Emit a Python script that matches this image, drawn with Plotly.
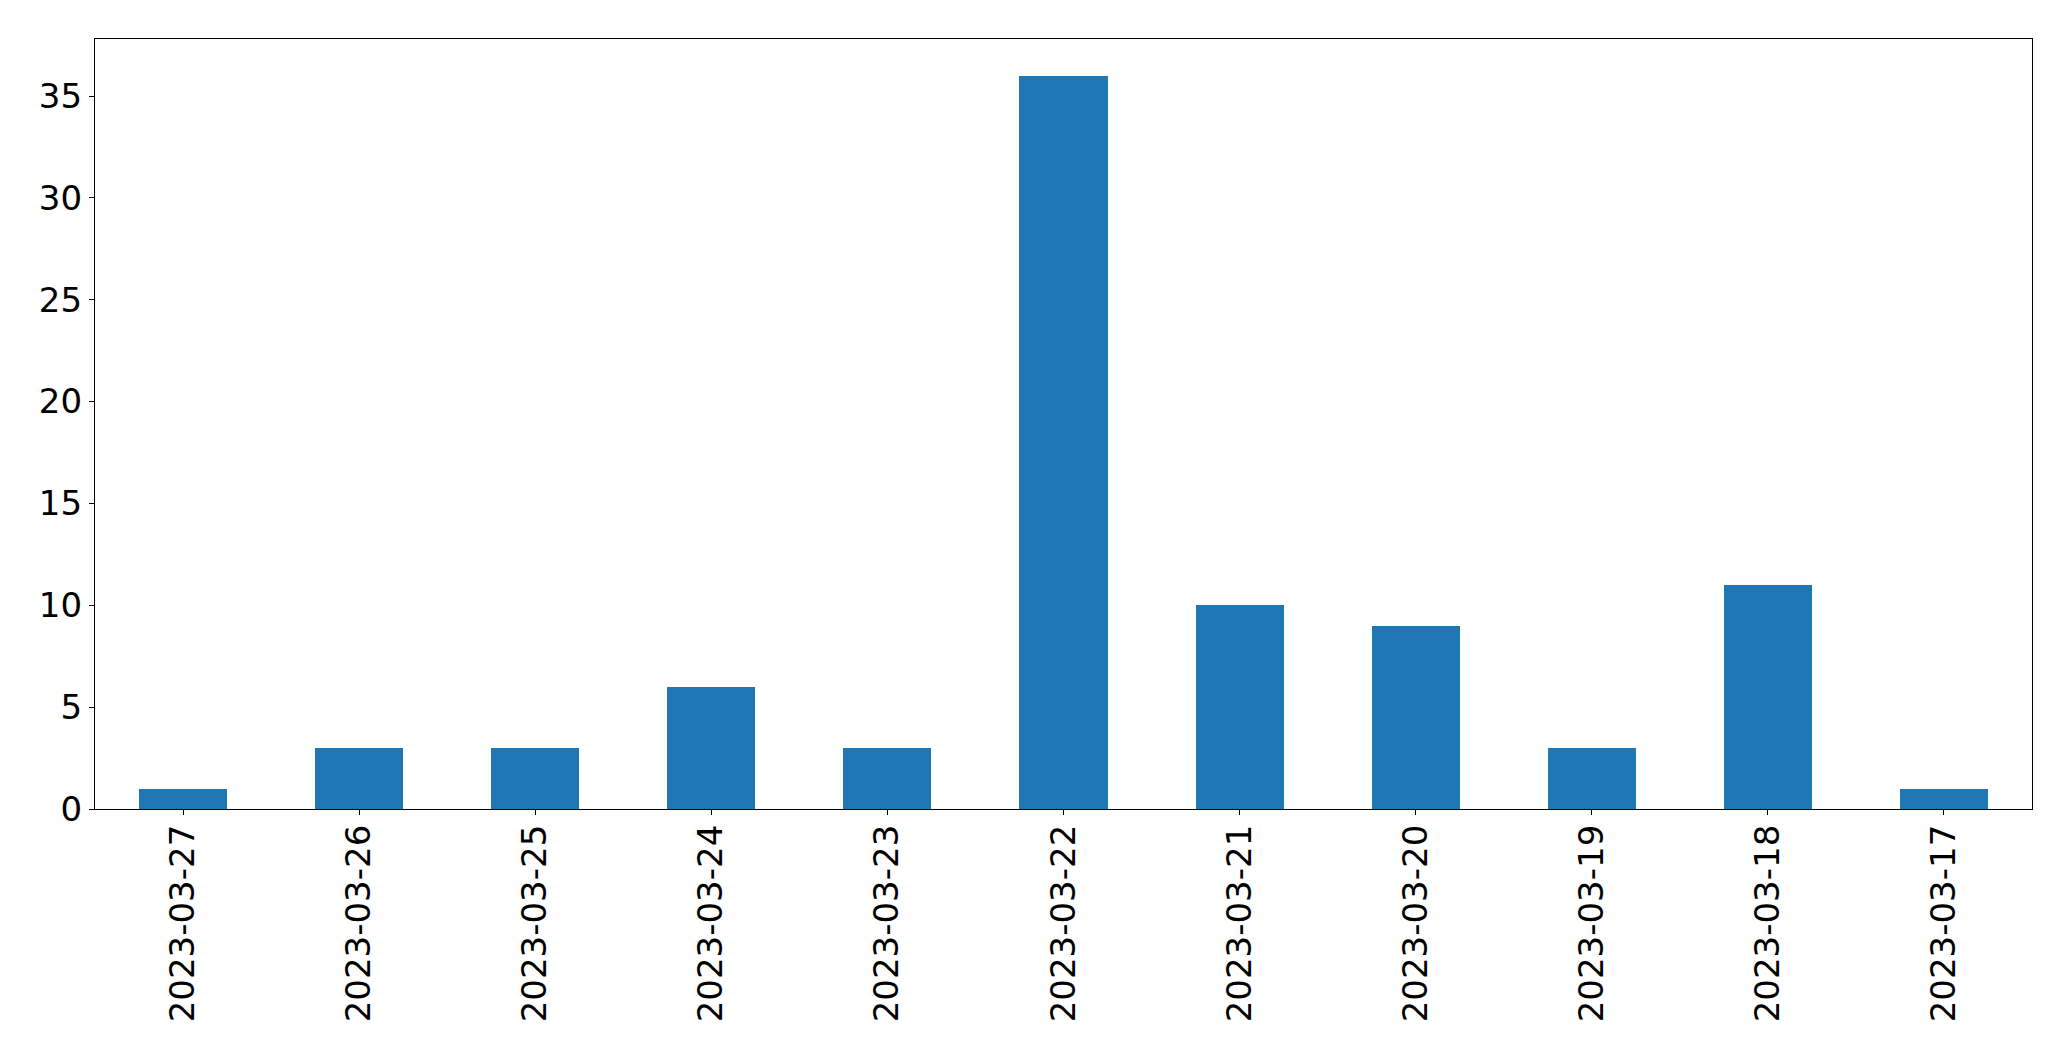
import plotly.graph_objects as go

dates = ["2023-03-27", "2023-03-26", "2023-03-25", "2023-03-24", "2023-03-23",
         "2023-03-22", "2023-03-21", "2023-03-20", "2023-03-19", "2023-03-18",
         "2023-03-17"]
counts = [1, 3, 3, 6, 3, 36, 10, 9, 3, 11, 1]
y_ticks = [0, 5, 10, 15, 20, 25, 30, 35]

fig = go.Figure(go.Bar(x=dates, y=counts, width=0.5, marker=dict(color="#1f77b4", line=dict(width=0))))

font = dict(family="DejaVu Sans", size=34, color="black")
fig.update_layout(
    width=2071, height=1061,
    margin=dict(l=95, r=39, t=39, b=252, pad=0),
    paper_bgcolor="white", plot_bgcolor="white",
    showlegend=False,
    font=font,
    bargap=0,
)
fig.update_xaxes(
    type="category", range=[-0.5, len(dates) - 0.5],
    showline=True, linecolor="black", linewidth=1.3, mirror=True,
    ticks="outside", ticklen=5, tickwidth=1.3, tickcolor="black",
    tickangle=-90, tickfont=font, showgrid=False, zeroline=False,
    ticklabelstandoff=-4,
)
fig.update_yaxes(
    range=[0, max(counts) * 1.05], tickvals=y_ticks,
    showline=True, linecolor="black", linewidth=1.3, mirror=True,
    ticks="outside", ticklen=5, tickwidth=1.3, tickcolor="black",
    tickfont=font, showgrid=False, zeroline=False,
)
fig.write_html(
    "out.html",
    config={"displayModeBar": False},
    post_script="document.body.style.margin='0';document.body.style.overflow='hidden';",
)
